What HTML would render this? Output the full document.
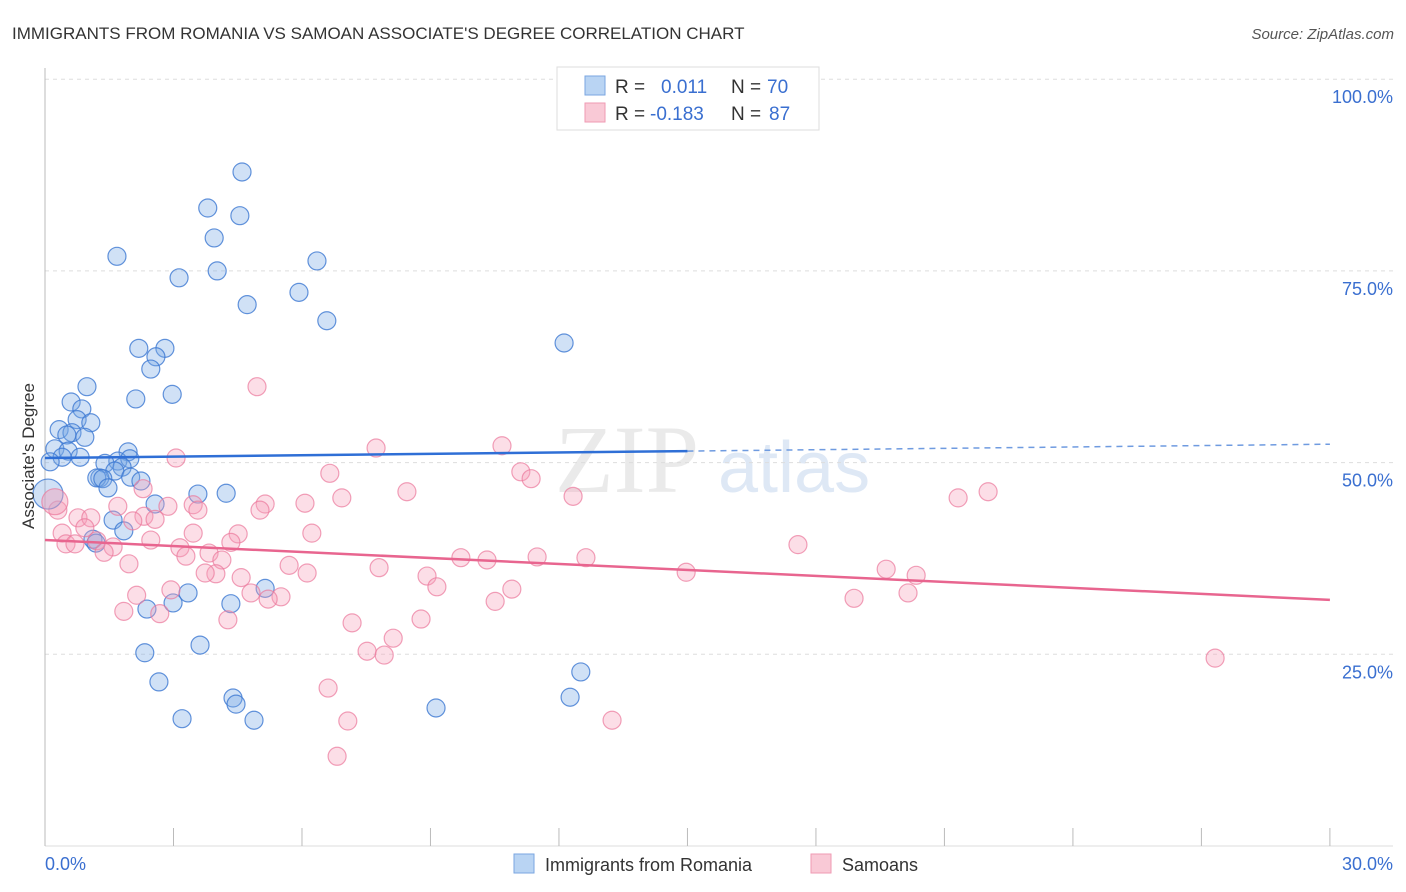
<!DOCTYPE html>
<html><head><meta charset="utf-8"><style>
body{margin:0;background:#fff;font-family:"Liberation Sans",sans-serif}
svg{display:block}
</style></head><body>
<svg id="chart" width="1406" height="892">
<text x="12" y="39" font-size="17" fill="#333">IMMIGRANTS FROM ROMANIA VS SAMOAN ASSOCIATE'S DEGREE CORRELATION CHART</text>
<text x="1394" y="39" font-size="15" fill="#555" font-style="italic" text-anchor="end">Source: ZipAtlas.com</text>
<g><text x="555" y="492" font-size="96" fill="#ddd" font-family="Liberation Serif,serif" opacity="0.6">ZIP</text><text x="718" y="492" font-size="72" fill="#c9d9f0" opacity="0.6">atlas</text></g>
<g id="grid"></g>
<g id="axes"></g>
<g id="pts"></g>
<g id="lines"></g>
<text transform="translate(34,456) rotate(-90)" font-size="17" fill="#333" text-anchor="middle">Associate's Degree</text>
<g>
<rect x="557" y="67" width="262" height="63" fill="#fff" stroke="#ddd"/>
<rect x="585" y="76" width="20" height="19" fill="#b9d4f3" stroke="#7aa6e0"/>
<rect x="585" y="103" width="20" height="19" fill="#f9c9d6" stroke="#ef9ab3"/>
<text x="615" y="93" font-size="19" fill="#333">R =</text><text x="661" y="93" font-size="19" fill="#3a6fd0">0.011</text>
<text x="731" y="93" font-size="19" fill="#333">N =</text><text x="767" y="93" font-size="19" fill="#3a6fd0">70</text>
<text x="615" y="120" font-size="19" fill="#333">R =</text><text x="650" y="120" font-size="19" fill="#3a6fd0">-0.183</text>
<text x="731" y="120" font-size="19" fill="#333">N =</text><text x="769" y="120" font-size="19" fill="#3a6fd0">87</text>
</g>
<g>
<rect x="514" y="854" width="20" height="19" fill="#b9d4f3" stroke="#7aa6e0"/>
<text x="545" y="871" font-size="18" fill="#333">Immigrants from Romania</text>
<rect x="811" y="854" width="20" height="19" fill="#f9c9d6" stroke="#ef9ab3"/>
<text x="842" y="871" font-size="18" fill="#333">Samoans</text>
</g>
</svg>
<script>
const xTicks=[0,3,6,9,12,15,18,21,24,27,30];
const yTicks=[25,50,75,100];
const xLabels=["0.0%","30.0%"];
const blueX=[4.6,3.8,4.55,3.95,1.68,6.35,3.13,4.02,5.93,4.72,6.58,12.12,2.19,2.8,2.59,2.47,0.98,2.97,2.12,0.61,0.86,0.75,1.07,0.33,0.63,0.93,0.51,0.23,0.54,1.94,0.4,0.12,0.82,1.7,1.98,1.4,1.8,1.63,1.28,1.21,1.35,2.0,2.24,1.47,3.57,4.23,2.57,1.59,1.84,1.12,1.19,5.14,3.34,2.99,4.34,2.38,3.62,2.33,12.51,2.66,4.39,12.26,4.46,9.13,3.2,4.88];
const blueY=[87.9,83.2,82.2,79.3,76.9,76.3,74.1,75.0,72.2,70.6,68.5,65.6,64.9,64.9,63.8,62.2,59.9,58.9,58.3,57.9,57.0,55.6,55.2,54.3,53.9,53.3,53.6,51.8,51.5,51.4,50.7,50.1,50.7,50.2,50.5,49.9,49.4,48.9,48.0,48.0,47.9,48.1,47.6,46.7,45.9,46.0,44.6,42.5,41.1,40.0,39.5,33.6,33.0,31.7,31.6,30.9,26.2,25.2,22.7,21.4,19.3,19.4,18.5,18.0,16.6,16.4];
const pinkX=[4.95,10.67,7.73,3.06,6.65,11.11,11.35,2.29,8.45,12.33,22.02,21.32,6.93,6.07,5.14,3.46,2.87,1.7,3.57,5.02,0.3,0.77,1.07,2.31,2.57,2.05,0.93,0.4,4.51,6.23,3.46,2.47,4.34,17.58,0.49,0.7,1.21,1.59,1.38,3.15,3.29,3.83,4.13,9.71,10.32,11.49,12.63,1.96,5.7,7.8,14.97,19.64,3.99,3.74,6.12,8.92,20.34,4.58,9.15,10.9,2.94,2.14,4.81,5.51,5.21,10.51,18.89,20.15,1.84,2.68,4.27,8.78,7.17,8.13,7.52,7.92,27.32,6.61,7.07,13.24,6.82];
const pinkY=[59.9,52.2,51.9,50.6,48.6,48.8,47.9,46.6,46.2,45.6,46.2,45.4,45.4,44.7,44.6,44.5,44.3,44.3,43.8,43.8,43.8,42.8,42.8,43.0,42.6,42.4,41.5,40.8,40.7,40.8,40.8,39.9,39.6,39.3,39.4,39.4,39.8,39.0,38.3,38.9,37.8,38.2,37.3,37.6,37.3,37.7,37.6,36.8,36.6,36.3,35.7,36.1,35.5,35.6,35.6,35.2,35.3,35.0,33.8,33.5,33.4,32.7,33.0,32.5,32.2,31.9,32.3,33.0,30.6,30.3,29.5,29.6,29.1,27.1,25.4,24.9,24.5,20.6,16.3,16.4,11.7];
const bigBlue=[0.07,45.9];
const bigPink=[0.23,44.9];
const blueLine=[50.6,52.4];
const pinkLine=[39.9,32.1];
const NS="http://www.w3.org/2000/svg";
const X=v=>45+v*42.83, Y=v=>846-v*7.668;
function mk(tag,attrs,parent){const e=document.createElementNS(NS,tag);for(const k in attrs)e.setAttribute(k,attrs[k]);document.getElementById(parent).appendChild(e);return e;}
yTicks.forEach(t=>{
 const l=mk('line',{x1:45,x2:1393,y1:Y(t),y2:Y(t),stroke:'#ddd','stroke-dasharray':'4,4'},'grid');
 
 
 const tx=mk('text',{x:1393,y:Y(t)+24,'font-size':18,fill:'#3a6fd0','text-anchor':'end'},'grid');
 tx.textContent=t.toFixed(1)+'%';
 
 
});
mk('line',{x1:45,x2:45,y1:68,y2:846,stroke:'#bbb'},'axes');
mk('line',{x1:45,x2:1393,y1:846,y2:846,stroke:'#ddd'},'axes');
xTicks.forEach(t=>{
 const l=mk('line',{x1:X(t),x2:X(t),y1:828,y2:846,stroke:'#bbb'},'axes');
 
 
});
const a=mk('text',{x:45,y:870,'font-size':18,fill:'#3a6fd0'},'axes');a.textContent=xLabels[0];


const b=mk('text',{x:1393,y:870,'font-size':18,fill:'#3a6fd0','text-anchor':'end'},'axes');b.textContent=xLabels[1];


function dot(x,y,r,fill,stroke,name){
 const c=mk('circle',{cx:X(x),cy:Y(y),r:r,fill:fill,stroke:stroke,'stroke-width':1.2},'pts');
 
 
}
blueX.forEach((x,i)=>dot(x,blueY[i],9,'rgba(120,170,230,0.35)','rgba(60,120,210,0.8)','romania-point'));
pinkX.forEach((x,i)=>dot(x,pinkY[i],9,'rgba(245,160,185,0.35)','rgba(235,120,155,0.7)','samoan-point'));
dot(bigBlue[0],bigBlue[1],15,'rgba(120,170,230,0.35)','rgba(60,120,210,0.8)','romania-point');
dot(bigPink[0],bigPink[1],13,'rgba(245,160,185,0.45)','rgba(235,120,155,0.7)','samoan-point');
const bm=blueLine[0]+(blueLine[1]-blueLine[0])*15/30;
let l1=mk('line',{x1:X(0),y1:Y(blueLine[0]),x2:X(15),y2:Y(bm),stroke:'#2f6fd6','stroke-width':2.5},'lines');


let l2=mk('line',{x1:X(15),y1:Y(bm),x2:X(30),y2:Y(blueLine[1]),stroke:'#6f9be0','stroke-width':1.5,'stroke-dasharray':'6,5'},'lines');


let l3=mk('line',{x1:X(0),y1:Y(pinkLine[0]),x2:X(30),y2:Y(pinkLine[1]),stroke:'#e8658f','stroke-width':2.5},'lines');


</script>
</body></html>
